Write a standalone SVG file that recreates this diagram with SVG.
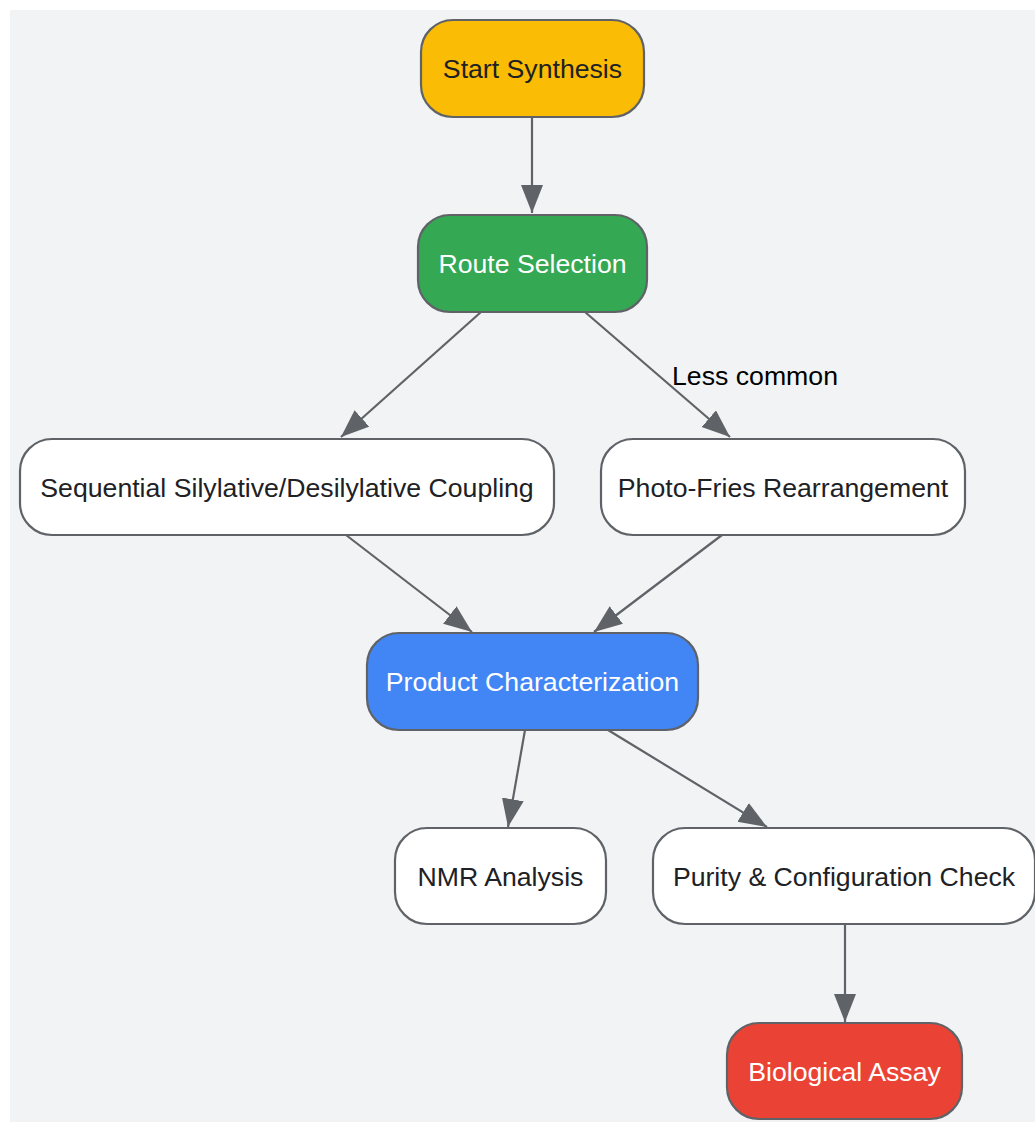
<svg xmlns="http://www.w3.org/2000/svg" width="1035" height="1123" viewBox="0 0 1035 1123">
<style>
.node{stroke:#5f6368;stroke-width:2.2}
.t{font-family:"Liberation Sans",Arial,sans-serif;font-size:26.67px;text-anchor:middle}
.dark{fill:#202124}
.light{fill:#ffffff}
.edge{stroke:#5f6368;stroke-width:2.2;fill:none;marker-end:url(#arr)}
</style>
<defs>
<marker id="arr" markerUnits="userSpaceOnUse" markerWidth="30" markerHeight="24" refX="28" refY="11" orient="auto">
<path d="M0,0 L28,11 L0,22 Z" fill="#5f6368"/>
</marker>
</defs>
<rect x="10" y="10" width="1025" height="1112" fill="#f1f3f5"/>
<g id="connectors">
<line class="edge" x1="532" y1="117" x2="532" y2="213"/>
<line class="edge" x1="481" y1="312" x2="341" y2="437"/>
<line class="edge" x1="585" y1="312" x2="730" y2="437"/>
<line class="edge" x1="346" y1="535" x2="472" y2="632"/>
<line class="edge" x1="722" y1="535" x2="594" y2="632"/>
<line class="edge" x1="525" y1="730" x2="508" y2="827"/>
<line class="edge" x1="608" y1="730" x2="767" y2="827"/>
<line class="edge" x1="845" y1="924" x2="845" y2="1022"/>
<text class="t" x="755" y="385" fill="#000000">Less common</text>
</g>
<g id="start">
<rect class="node" x="421" y="20" width="223" height="97" rx="32" fill="#fbbc05"/>
<text class="t dark" x="532.5" y="78">Start Synthesis</text>
</g>
<g id="route">
<rect class="node" x="418" y="215" width="229" height="97" rx="32" fill="#34a853"/>
<text class="t light" x="532.5" y="273">Route Selection</text>
</g>
<g id="sequential">
<rect class="node" x="20" y="439" width="534" height="96" rx="32" fill="#ffffff"/>
<text class="t dark" x="287" y="497">Sequential Silylative/Desilylative Coupling</text>
</g>
<g id="photofries">
<rect class="node" x="601" y="439" width="364" height="96" rx="32" fill="#ffffff"/>
<text class="t dark" x="783" y="497">Photo-Fries Rearrangement</text>
</g>
<g id="product">
<rect class="node" x="367" y="633" width="331" height="97" rx="32" fill="#4285f4"/>
<text class="t light" x="532.5" y="691">Product Characterization</text>
</g>
<g id="nmr">
<rect class="node" x="395" y="828" width="211" height="96" rx="32" fill="#ffffff"/>
<text class="t dark" x="500.5" y="886">NMR Analysis</text>
</g>
<g id="purity">
<rect class="node" x="653" y="828" width="382" height="96" rx="32" fill="#ffffff"/>
<text class="t dark" x="844" y="886">Purity &amp; Configuration Check</text>
</g>
<g id="bio">
<rect class="node" x="727" y="1023" width="235" height="96" rx="32" fill="#ea4335"/>
<text class="t light" x="844.5" y="1081">Biological Assay</text>
</g>
</svg>
